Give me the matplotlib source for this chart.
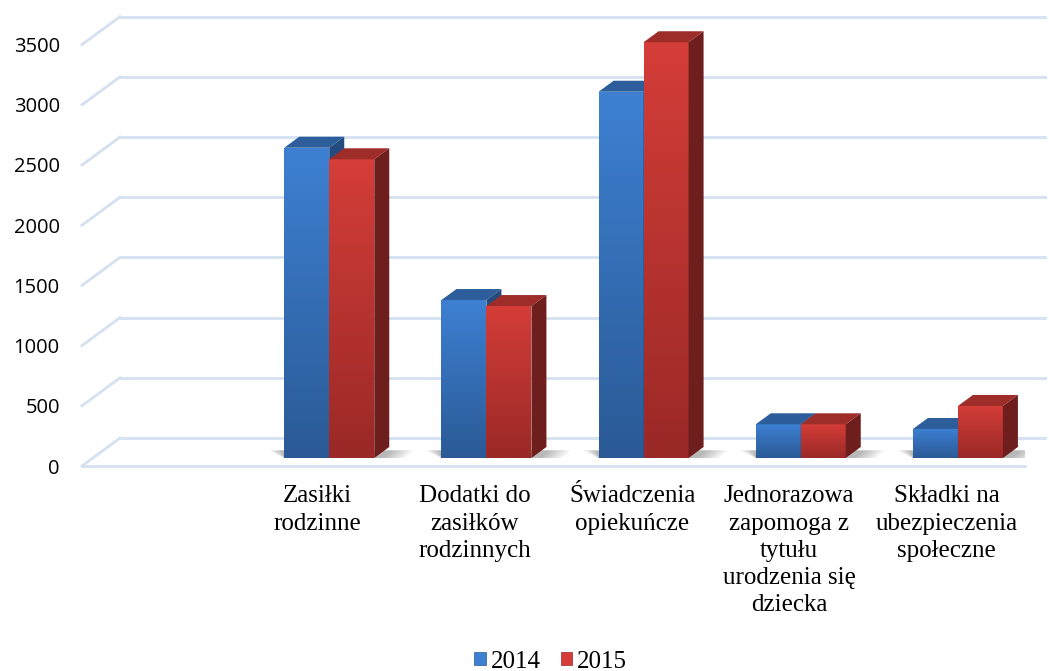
import numpy as np
import matplotlib.pyplot as plt
from matplotlib.patches import Polygon, Patch

categories = ["", "Zasiłki\nrodzinne", "Dodatki do\nzasiłków\nrodzinnych",
              "Świadczenia\nopiekuńcze", "Jednorazowa\nzapomoga z\ntytułu\nurodzenia się\ndziecka",
              "Składki na\nubezpieczenia\nspołeczne"]
years = ["2014", "2015"]
v2014 = [np.nan, 2577, 1312, 3042, 280, 241]
v2015 = [np.nan, 2481, 1262, 3453, 280, 432]
yticks = [0, 500, 1000, 1500, 2000, 2500, 3000, 3500]

W, H = 1049, 671
fig = plt.figure(figsize=(W / 100, H / 100), dpi=100)
ax = fig.add_axes([82 / W, (H - 466) / H, 943 / W, 451.5 / H])
xmax, ymax = 6, 3750
ux = 943 / xmax          # px per category unit
uy = 451.5 / ymax        # px per value unit

def dx(px):
    return px / ux

def dy(px):
    return px / uy

grid_c = "#d5e1f1"
# floor / wall depth
wdx, wdy = dx(38), dy(28)
for v in yticks:
    ax.plot([0, wdx], [v, v + wdy], color=grid_c, lw=2, clip_on=False, zorder=1)
    ax.plot([wdx, dx(963)], [v + wdy, v + wdy], color=grid_c, lw=2, clip_on=False, zorder=1)
ax.plot([0, xmax], [0, 0], color=grid_c, lw=2, clip_on=False, zorder=1)

# bars (front plane sits a bit into the floor)
bw = dx(45)
fx, fy = dx(11.5), dy(8)          # offset of bar front plane
ddx, ddy = dx(15), dy(11)         # bar depth

styles = {
    "2014": dict(top="#3d80d2", bot="#2b5a96", cap="#2d5e9b", side="#234b7d"),
    "2015": dict(top="#d43d38", bot="#9a2927", cap="#9e2c29", side="#6e1e1c"),
}

def grad(c1, c2, n=64):
    a = np.array(plt.matplotlib.colors.to_rgb(c1))
    b = np.array(plt.matplotlib.colors.to_rgb(c2))
    t = np.linspace(0, 1, n)[:, None]
    return (a * (1 - t) + b * t)[:, None, :]

x = np.arange(len(categories)) + 0.5
for j, (yr, vals) in enumerate(zip(years, [v2014, v2015])):
    st = styles[yr]
    xl = x + fx - bw + j * bw
    for i in range(len(categories)):
        v = vals[i]
        if np.isnan(v):
            continue
        x0, x1 = xl[i], xl[i] + bw
        # soft floor shadow around the pair
        if j == 0:
            for k in range(6):
                s = 1 - k / 6
                sh = Polygon([(x0 - dx(16) * s, fy + ddy * 0.7),
                              (x0, fy),
                              (x0 + 2 * bw + dx(6) + dx(24) * s, fy),
                              (x0 + 2 * bw + ddx + dx(24) * s, fy + ddy * 0.7)],
                             closed=True, color="black", alpha=0.05, lw=0, zorder=2)
                ax.add_patch(sh)
        bars = ax.bar(x0, v, width=bw, bottom=fy, align="edge", color="none",
                      lw=0, zorder=3)
        im = ax.imshow(grad(st["top"], st["bot"]), extent=[x0, x1, fy, fy + v],
                       aspect="auto", zorder=3, origin="upper")
        im.set_clip_path(bars[0])
        top = Polygon([(x0, fy + v), (x1, fy + v), (x1 + ddx, fy + v + ddy),
                       (x0 + ddx, fy + v + ddy)], closed=True, color=st["cap"],
                      lw=0, zorder=3)
        ax.add_patch(top)
        side = Polygon([(x1, fy), (x1 + ddx, fy + ddy), (x1 + ddx, fy + v + ddy),
                        (x1, fy + v)], closed=True, color=st["side"], lw=0, zorder=3)
        ax.add_patch(side)

ax.set_xlim(0, xmax)
ax.set_ylim(0, ymax)
for s in ax.spines.values():
    s.set_visible(False)
ax.set_yticks(yticks)
ax.set_yticklabels([str(t) for t in yticks], fontfamily="Open Sans", fontsize=14.5)
ax.tick_params(axis="y", length=0, pad=16)
ax.set_xticks(x)
ax.set_xticklabels(categories, fontfamily="Liberation Serif", fontsize=18,
                   linespacing=1.3, va="top")
ax.tick_params(axis="x", length=0, pad=14)
ax.set_facecolor("none")

handles = [Patch(facecolor=styles[y]["top"], edgecolor=styles[y]["bot"], lw=0.5)
           for y in years]
fig.legend(handles, years, loc="lower center", bbox_to_anchor=(0.525, -0.036),
           ncol=2, frameon=False, prop={"family": "Liberation Serif", "size": 18},
           handlelength=0.45, handleheight=0.45, handletextpad=0.2, columnspacing=0.8)

fig.savefig("out.png", dpi=100)
